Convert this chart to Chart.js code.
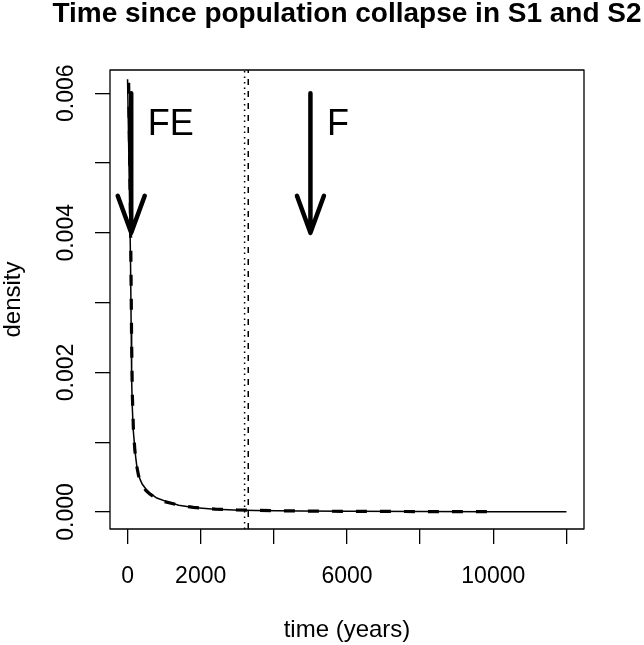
<!DOCTYPE html>
<html>
<head>
<meta charset="utf-8">
<script src="https://cdn.jsdelivr.net/npm/chart.js@4.4.1/dist/chart.umd.min.js"></script>
<style>
  body { margin: 0; background: #fff; overflow: hidden; }
  canvas { display: block; }
</style>
</head>
<body>
<canvas id="chart" width="644" height="645"></canvas>
<script>
'use strict'

// density curve, solid line (S1)
const solidX = [0, 20, 40, 60, 80, 100, 112, 130, 156, 200, 221, 260, 300, 340, 400, 500, 612, 800, 1070, 1400, 1800, 2300, 2900, 3500, 4700, 6000, 8000, 10000, 12000]
const solidY = [0.0062, 0.0056, 0.00495, 0.0043, 0.00365, 0.0026, 0.0019, 0.0015, 0.00117, 0.0009, 0.00079, 0.00063, 0.00054, 0.00047, 0.0004, 0.00033, 0.00027, 0.0002, 0.000148, 0.000095, 0.000065, 0.000042, 0.000029, 0.000022, 0.000014, 0.00001, 0.000006, 0.000004, 0.000002]

// density curve, dashed line (S2)
const dashedX = [30, 50, 70, 90, 110, 130, 160, 200, 250, 300, 400, 500, 600, 800, 1000, 1400, 1800, 2400, 3000, 4000, 5000, 6000, 8000, 10000]
const dashedY = [0.00615, 0.0054, 0.0046, 0.0037, 0.0025, 0.0017, 0.00118, 0.00088, 0.00066, 0.00052, 0.00038, 0.00031, 0.00026, 0.00019, 0.00015, 0.000098, 0.000066, 0.00004, 0.000028, 0.000018, 0.000013, 0.000009, 0.000006, 0.000004]

// vertical reference lines
const dottedLineX = 3200
const dashedLineX = 3300

// arrows and their labels
const arrowX = [100, 5000]
const arrowFrom = 0.006
const arrowTo = 0.004
const arrowLabels = ['FE', 'F']
const arrowLabelX = [550, 5450]
const arrowLabelY = 0.0054

// axes
const xMin = -480
const xMax = 12480
const yMin = -0.000244
const yMax = 0.006333
const xTicks = [0, 2000, 4000, 6000, 8000, 10000, 12000]
const xTickLabels = ['0', '2000', '', '6000', '', '10000', '']
const yTicks = [0, 0.001, 0.002, 0.003, 0.004, 0.005, 0.006]
const yTickLabels = ['0.000', '', '0.002', '', '0.004', '', '0.006']

const title = 'Time since population collapse in S1 and S2'
const xTitle = 'time (years)'
const yTitle = 'density'

const FONT = '"Liberation Sans", Arial, Helvetica, sans-serif'

const toPoints = (xs, ys) => xs.map((x, i) => ({ x: x, y: ys[i] }))

const rPlot = {
  id: 'rPlot',
  afterDatasetsDraw(chart) {
    const ctx = chart.ctx
    const area = chart.chartArea
    const xs = chart.scales.x
    const ys = chart.scales.y

    ctx.save()
    ctx.strokeStyle = '#000'
    ctx.fillStyle = '#000'

    // arrows
    ctx.lineWidth = 4.5
    ctx.lineCap = 'round'
    ctx.lineJoin = 'round'
    arrowX.forEach((v) => {
      const px = xs.getPixelForValue(v)
      const y1 = ys.getPixelForValue(arrowFrom)
      const y2 = ys.getPixelForValue(arrowTo)
      ctx.beginPath()
      ctx.moveTo(px, y1)
      ctx.lineTo(px, y2)
      ctx.moveTo(px - 13.5, y2 - 37)
      ctx.lineTo(px, y2)
      ctx.lineTo(px + 13.5, y2 - 37)
      ctx.stroke()
    })

    // arrow labels
    ctx.font = '36px ' + FONT
    ctx.textAlign = 'left'
    ctx.textBaseline = 'alphabetic'
    arrowLabels.forEach((t, i) => {
      ctx.fillText(t, xs.getPixelForValue(arrowLabelX[i]), ys.getPixelForValue(arrowLabelY))
    })

    // box
    ctx.lineWidth = 1.3
    ctx.lineCap = 'butt'
    ctx.strokeRect(area.left, area.top, area.right - area.left, area.bottom - area.top)

    // x tick labels
    ctx.font = '23px ' + FONT
    ctx.textAlign = 'center'
    xTicks.forEach((v, i) => {
      if (xTickLabels[i]) ctx.fillText(xTickLabels[i], xs.getPixelForValue(v), area.bottom + 54)
    })

    // y tick labels, rotated like R
    yTicks.forEach((v, i) => {
      if (!yTickLabels[i]) return
      ctx.save()
      ctx.translate(area.left - 37.5, ys.getPixelForValue(v))
      ctx.rotate(-Math.PI / 2)
      ctx.fillText(yTickLabels[i], 0, 0)
      ctx.restore()
    })

    // axis titles
    const cx = (area.left + area.right) / 2
    const cy = (area.top + area.bottom) / 2
    ctx.font = '24px ' + FONT
    ctx.fillText(xTitle, cx, 637)
    ctx.save()
    ctx.translate(20, cy)
    ctx.rotate(-Math.PI / 2)
    ctx.fillText(yTitle, 0, 0)
    ctx.restore()

    // main title
    ctx.font = 'bold 28px ' + FONT
    ctx.fillText(title, cx, 22)

    ctx.restore()
  }
}

const ctx = document.getElementById('chart')

const myChart = new Chart(ctx, {
  type: 'line',
  data: {
    datasets: [
      {
        data: toPoints(solidX, solidY),
        borderColor: '#000',
        borderWidth: 1.5,
        pointRadius: 0,
        tension: 0
      },
      {
        data: toPoints(dashedX, dashedY),
        borderColor: '#000',
        borderWidth: 3.2,
        borderDash: [11, 13],
        pointRadius: 0,
        tension: 0
      },
      {
        data: [{ x: dottedLineX, y: yMin }, { x: dottedLineX, y: yMax }],
        borderColor: '#000',
        borderWidth: 1.5,
        borderDash: [1.5, 4],
        pointRadius: 0
      },
      {
        data: [{ x: dashedLineX, y: yMin }, { x: dashedLineX, y: yMax }],
        borderColor: '#000',
        borderWidth: 1.5,
        borderDash: [6, 6],
        pointRadius: 0
      }
    ]
  },
  options: {
    responsive: false,
    animation: false,
    events: [],
    layout: { padding: { top: 70, right: 60, left: 0, bottom: 0 } },
    plugins: {
      legend: { display: false },
      title: { display: false },
      tooltip: { enabled: false }
    },
    scales: {
      x: {
        type: 'linear',
        min: xMin,
        max: xMax,
        afterBuildTicks: (scale) => { scale.ticks = xTicks.map((v) => ({ value: v })) },
        afterFit: (scale) => { scale.height = 116 },
        ticks: { display: false },
        border: { display: false },
        grid: { drawOnChartArea: false, drawTicks: true, tickLength: 15, color: '#000', lineWidth: 1.3 }
      },
      y: {
        type: 'linear',
        min: yMin,
        max: yMax,
        afterBuildTicks: (scale) => { scale.ticks = yTicks.map((v) => ({ value: v })) },
        afterFit: (scale) => { scale.width = 110 },
        ticks: { display: false },
        border: { display: false },
        grid: { drawOnChartArea: false, drawTicks: true, tickLength: 15, color: '#000', lineWidth: 1.3 }
      }
    }
  },
  plugins: [rPlot]
})
</script>
</body>
</html>
